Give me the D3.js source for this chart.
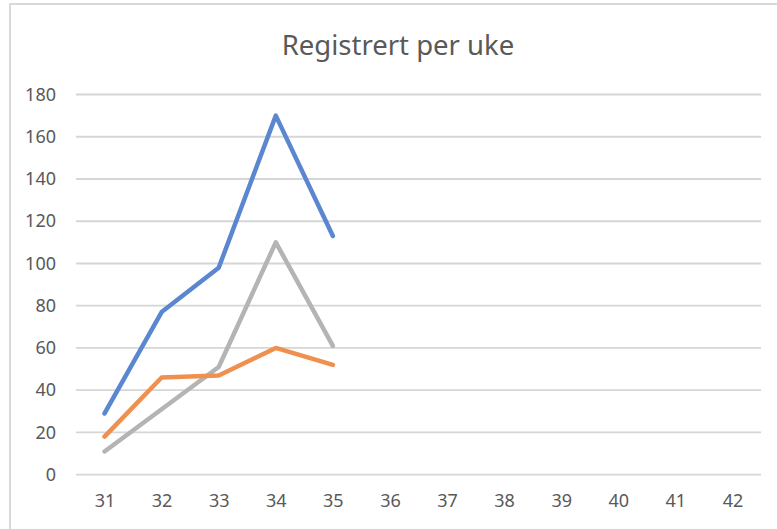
<!DOCTYPE html>
<html>
<head>
<meta charset="utf-8">
<script src="https://cdn.jsdelivr.net/npm/d3@7"></script>
<style>
  html, body { margin: 0; padding: 0; background: #fff; }
  svg { display: block; }
</style>
</head>
<body>
<div id="chart"></div>
<script>
// Registrert per uke - line chart

var weeks = ["31","32","33","34","35","36","37","38","39","40","41","42"];
var yTicks = [0,20,40,60,80,100,120,140,160,180];
var seriesBlue = [29, 77, 98, 170, 113];
var seriesOrange = [18, 46, 47, 60, 52];
var seriesGray = [11, 31, 51, 110, 61];
var title = "Registrert per uke";

var W = 777, H = 529;
var plot = {left: 76, right: 761, top: 94.5, bottom: 474.7};

var svg = d3.select("#chart").append("svg")
    .attr("width", W)
    .attr("height", H);

// chart frame (cut by the screenshot on the right and bottom)
svg.append("rect")
    .attr("x", 10).attr("y", 4)
    .attr("width", W + 20).attr("height", H + 20)
    .attr("fill", "#fff")
    .attr("stroke", "#d9d9d9")
    .attr("stroke-width", 2);

var x = d3.scalePoint()
    .domain(weeks)
    .range([plot.left, plot.right])
    .padding(0.5);

var y = d3.scaleLinear()
    .domain([0, 180])
    .range([plot.bottom, plot.top]);

// gridlines
svg.append("g")
    .selectAll("line")
    .data(yTicks)
    .enter()
    .append("line")
    .attr("x1", plot.left)
    .attr("x2", plot.right)
    .attr("y1", function(d){ return y(d); })
    .attr("y2", function(d){ return y(d); })
    .attr("stroke", "#d6d6d6")
    .attr("stroke-width", 1.8);

// y axis labels
var yAxis = d3.axisLeft(y).tickValues(yTicks).tickSize(0).tickPadding(0);
var gy = svg.append("g")
    .attr("transform", "translate(" + (plot.left - 20) + ",0)")
    .call(yAxis);
gy.select(".domain").remove();
gy.selectAll("text")
    .attr("font-family", "'Segoe UI', 'Noto Sans', sans-serif")
    .attr("font-size", "18px")
    .attr("fill", "#595959");

// x axis labels
var xAxis = d3.axisBottom(x).tickSize(0).tickPadding(0);
var gx = svg.append("g")
    .attr("transform", "translate(0," + (plot.bottom + 20) + ")")
    .call(xAxis);
gx.select(".domain").remove();
gx.selectAll("text")
    .attr("font-family", "'Segoe UI', 'Noto Sans', sans-serif")
    .attr("font-size", "18px")
    .attr("fill", "#595959");

// title
svg.append("text")
    .attr("x", 398)
    .attr("y", 55)
    .attr("text-anchor", "middle")
    .attr("font-family", "'Segoe UI', 'Noto Sans', sans-serif")
    .attr("font-size", "27.5px")
    .attr("fill", "#595959")
    .text(title);

// lines
var line = d3.line()
    .x(function(d, i){ return x(weeks[i]); })
    .y(function(d){ return y(d); });

var series = [
    {values: seriesGray, color: "#b4b4b4"},
    {values: seriesOrange, color: "#f0904f"},
    {values: seriesBlue, color: "#5b87d1"}
];

svg.append("g")
    .selectAll("path")
    .data(series)
    .enter()
    .append("path")
    .attr("d", function(d){ return line(d.values); })
    .attr("fill", "none")
    .attr("stroke", function(d){ return d.color; })
    .attr("stroke-width", 4.5)
    .attr("stroke-linejoin", "round")
    .attr("stroke-linecap", "round");
</script>
</body>
</html>
